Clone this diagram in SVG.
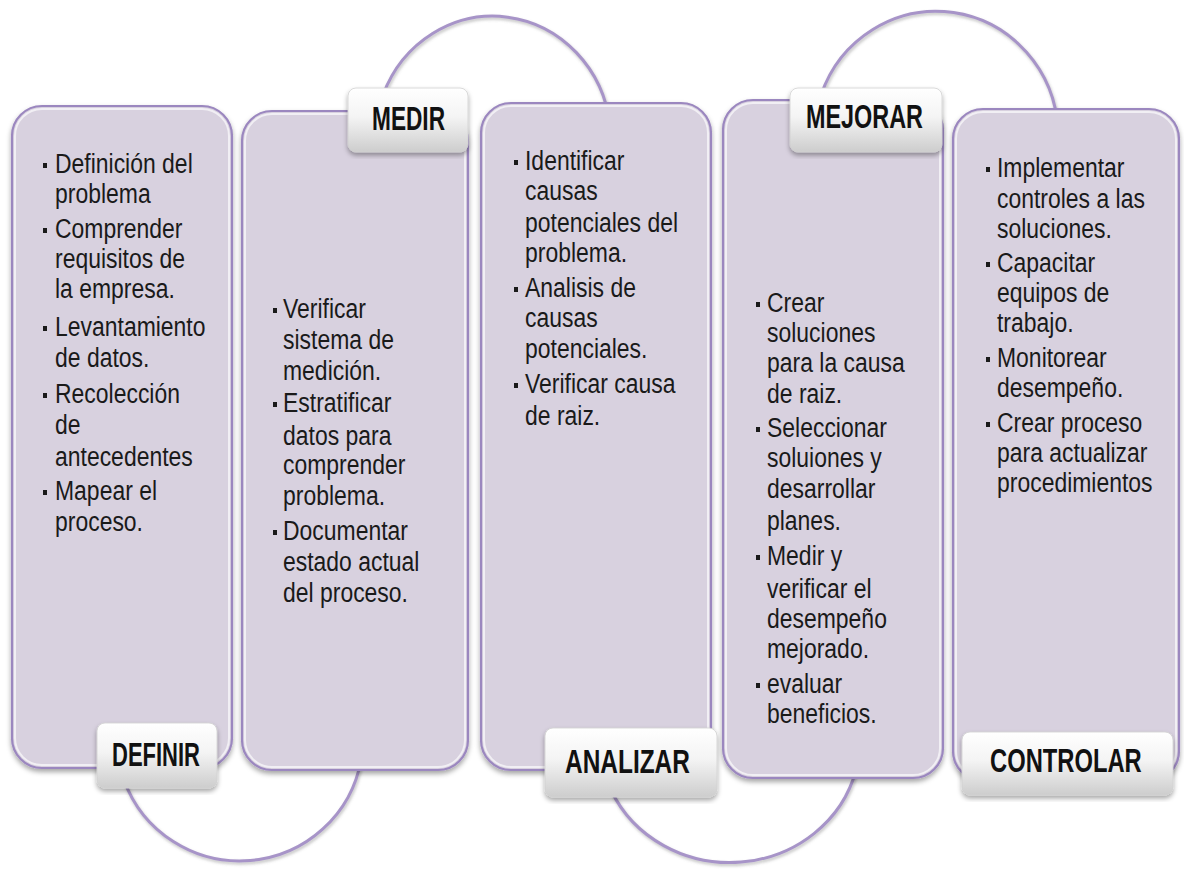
<svg xmlns="http://www.w3.org/2000/svg" width="1184" height="871" viewBox="0 0 1184 871">
<defs>
<style>
.box{fill:#d8d1df;stroke:#9b87bf;stroke-width:2.2}
.gl{fill:none;stroke:#ffffff;stroke-opacity:.65;stroke-width:2}
.lab{fill:url(#lg);stroke:#d0d0d0;stroke-width:0.8}
.lt{font-family:"Liberation Sans",Arial,sans-serif;font-weight:bold;font-size:33px;fill:#111}
.t{font-family:"Liberation Sans",Arial,sans-serif;font-size:27px;fill:#1a1a1a}
.b{fill:#1a1a1a}
.arc{fill:none;stroke:#a794c8;stroke-width:3}
</style>
<linearGradient id="lg" x1="0" y1="0" x2="0" y2="1">
<stop offset="0" stop-color="#ffffff"/>
<stop offset="0.45" stop-color="#f4f4f4"/>
<stop offset="1" stop-color="#cdcdcd"/>
</linearGradient>
<filter id="sh" x="-10%" y="-10%" width="120%" height="120%">
<feDropShadow dx="0" dy="3" stdDeviation="2.5" flood-color="#000" flood-opacity="0.35"/>
</filter>
<filter id="ash" x="-10%" y="-10%" width="120%" height="120%">
<feDropShadow dx="1" dy="2" stdDeviation="1.5" flood-color="#777" flood-opacity="0.45"/>
</filter>
</defs>
<rect width="1184" height="871" fill="#ffffff"/>

<g id="connectors" filter="url(#ash)">
<path class="arc" d="M 383 95 A 118 124 0 0 1 610 125"/>
<path class="arc" d="M 821 95 A 122 125 0 0 1 1058 130"/>
<path class="arc" d="M 124 780 A 123 122 0 0 0 361 760"/>
<path class="arc" d="M 611 790 A 130 122 0 0 0 856 770"/>
</g>

<g id="node-definir">
<rect class="box" x="12" y="106" width="220" height="662" rx="30" filter="url(#sh)"/>
<rect class="gl" x="15" y="109" width="214" height="656" rx="27"/>
<rect class="b" x="43" y="163" width="4" height="5"/>
<rect class="b" x="43" y="228" width="4" height="5"/>
<rect class="b" x="43" y="326" width="4" height="5"/>
<rect class="b" x="43" y="393" width="4" height="5"/>
<rect class="b" x="43" y="490" width="4" height="5"/>
<g transform="translate(55,0) scale(0.85,1)">
<text class="t"><tspan x="0" y="173">Definición del</tspan><tspan x="0" y="203">problema</tspan><tspan x="0" y="238">Comprender</tspan><tspan x="0" y="268">requisitos de</tspan><tspan x="0" y="298">la empresa.</tspan><tspan x="0" y="336">Levantamiento</tspan><tspan x="0" y="367">de datos.</tspan><tspan x="0" y="403">Recolección</tspan><tspan x="0" y="434">de</tspan><tspan x="0" y="466">antecedentes</tspan><tspan x="0" y="500">Mapear el</tspan><tspan x="0" y="531">proceso.</tspan></text>
</g>
<rect class="lab" x="97" y="723" width="120" height="65" rx="8" filter="url(#sh)"/>
<text class="lt" transform="translate(112,766) scale(0.667,1)">DEFINIR</text>
</g>

<g id="node-medir">
<rect class="box" x="242" y="111" width="226" height="659" rx="30" filter="url(#sh)"/>
<rect class="gl" x="245" y="114" width="220" height="653" rx="27"/>
<rect class="b" x="273" y="308" width="4" height="5"/>
<rect class="b" x="273" y="402" width="4" height="5"/>
<rect class="b" x="273" y="530" width="4" height="5"/>
<g transform="translate(283,0) scale(0.85,1)">
<text class="t"><tspan x="0" y="318">Verificar</tspan><tspan x="0" y="349">sistema de</tspan><tspan x="0" y="380">medición.</tspan><tspan x="0" y="412">Estratificar</tspan><tspan x="0" y="445">datos para</tspan><tspan x="0" y="474">comprender</tspan><tspan x="0" y="505">problema.</tspan><tspan x="0" y="540">Documentar</tspan><tspan x="0" y="571">estado actual</tspan><tspan x="0" y="602">del proceso.</tspan></text>
</g>
<rect class="lab" x="348" y="88" width="120" height="64" rx="8" filter="url(#sh)"/>
<text class="lt" transform="translate(372,130) scale(0.687,1)">MEDIR</text>
</g>

<g id="node-analizar">
<rect class="box" x="481" y="103" width="230" height="667" rx="30" filter="url(#sh)"/>
<rect class="gl" x="484" y="106" width="224" height="661" rx="27"/>
<rect class="b" x="514" y="160" width="4" height="5"/>
<rect class="b" x="514" y="287" width="4" height="5"/>
<rect class="b" x="514" y="383" width="4" height="5"/>
<g transform="translate(525,0) scale(0.85,1)">
<text class="t"><tspan x="0" y="170">Identificar</tspan><tspan x="0" y="200">causas</tspan><tspan x="0" y="232">potenciales del</tspan><tspan x="0" y="262">problema.</tspan><tspan x="0" y="297">Analisis de</tspan><tspan x="0" y="327">causas</tspan><tspan x="0" y="358">potenciales.</tspan><tspan x="0" y="393">Verificar causa</tspan><tspan x="0" y="425">de raiz.</tspan></text>
</g>
<rect class="lab" x="545" y="728" width="172" height="69" rx="8" filter="url(#sh)"/>
<text class="lt" transform="translate(565,773) scale(0.741,1)">ANALIZAR</text>
</g>

<g id="node-mejorar">
<rect class="box" x="723" y="100" width="220" height="678" rx="30" filter="url(#sh)"/>
<rect class="gl" x="726" y="103" width="214" height="672" rx="27"/>
<rect class="b" x="756" y="302" width="4" height="5"/>
<rect class="b" x="756" y="427" width="4" height="5"/>
<rect class="b" x="756" y="555" width="4" height="5"/>
<rect class="b" x="756" y="683" width="4" height="5"/>
<g transform="translate(767,0) scale(0.85,1)">
<text class="t"><tspan x="0" y="312">Crear</tspan><tspan x="0" y="342">soluciones</tspan><tspan x="0" y="372">para la causa</tspan><tspan x="0" y="403">de raiz.</tspan><tspan x="0" y="437">Seleccionar</tspan><tspan x="0" y="467">soluiones y</tspan><tspan x="0" y="498">desarrollar</tspan><tspan x="0" y="530">planes.</tspan><tspan x="0" y="565">Medir y</tspan><tspan x="0" y="598">verificar el</tspan><tspan x="0" y="628">desempeño</tspan><tspan x="0" y="658">mejorado.</tspan><tspan x="0" y="693">evaluar</tspan><tspan x="0" y="723">beneficios.</tspan></text>
</g>
<rect class="lab" x="790" y="88" width="152" height="64" rx="8" filter="url(#sh)"/>
<text class="lt" transform="translate(806,128) scale(0.709,1)">MEJORAR</text>
</g>

<g id="node-controlar">
<rect class="box" x="953" y="109" width="226" height="672" rx="30" filter="url(#sh)"/>
<rect class="gl" x="956" y="112" width="220" height="666" rx="27"/>
<rect class="b" x="986" y="167" width="4" height="5"/>
<rect class="b" x="986" y="262" width="4" height="5"/>
<rect class="b" x="986" y="357" width="4" height="5"/>
<rect class="b" x="986" y="422" width="4" height="5"/>
<g transform="translate(997,0) scale(0.85,1)">
<text class="t"><tspan x="0" y="177">Implementar</tspan><tspan x="0" y="208">controles a las</tspan><tspan x="0" y="238">soluciones.</tspan><tspan x="0" y="272">Capacitar</tspan><tspan x="0" y="302">equipos de</tspan><tspan x="0" y="332">trabajo.</tspan><tspan x="0" y="367">Monitorear</tspan><tspan x="0" y="397">desempeño.</tspan><tspan x="0" y="432">Crear proceso</tspan><tspan x="0" y="462">para actualizar</tspan><tspan x="0" y="492">procedimientos</tspan></text>
</g>
<rect class="lab" x="962" y="732" width="211" height="63" rx="8" filter="url(#sh)"/>
<text class="lt" transform="translate(990,772) scale(0.72,1)">CONTROLAR</text>
</g>
</svg>
